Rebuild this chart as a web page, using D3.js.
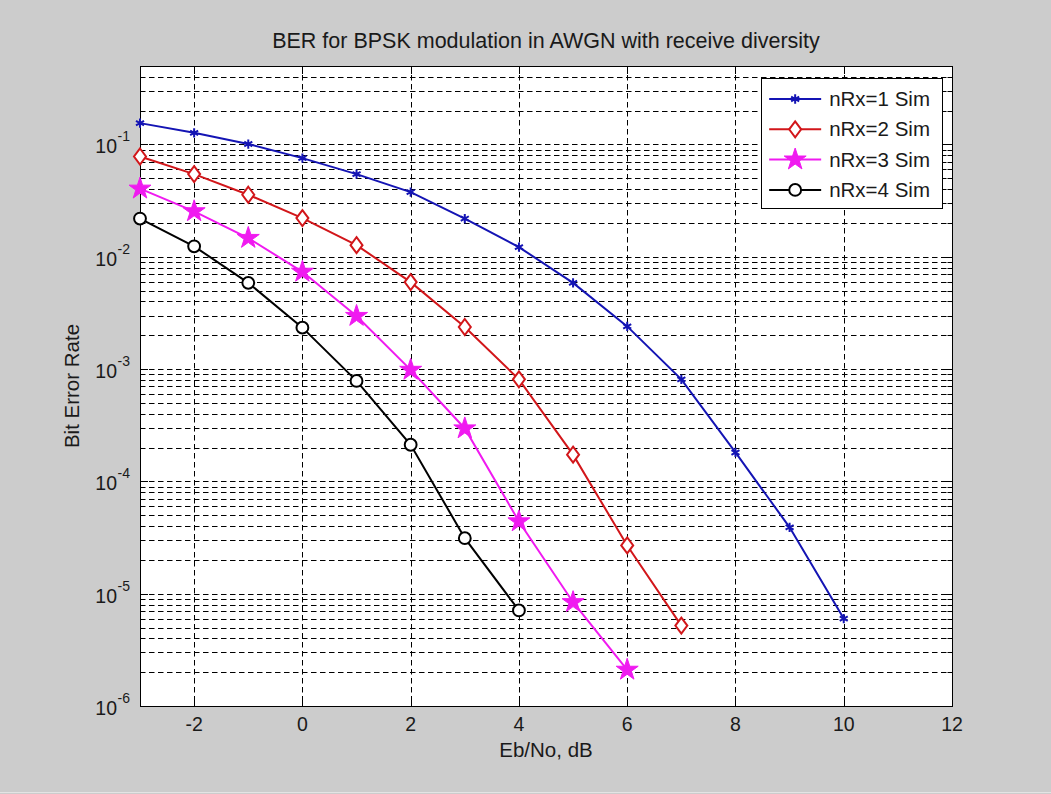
<!DOCTYPE html>
<html>
<head>
<meta charset="utf-8">
<script src="https://cdn.jsdelivr.net/npm/d3@7"></script>
<style>
    body { margin: 0; background: #cccccc; }
    svg { display: block; font-family: 'Liberation Sans', Arial, sans-serif; }
    .grid line { stroke: #000; stroke-width: 1; stroke-dasharray: 5.5, 3.5; }
    .tick-label { font-size: 19.5px; fill: #1a1a1a; }
    .axis-label { font-size: 20.5px; fill: #1a1a1a; }
</style>
</head>
<body>
<div id="chart"></div>
<script>
// Eb/No values (dB) for each simulated curve
const ebno1 = [-3, -2, -1, 0, 1, 2, 3, 4, 5, 6, 7, 8, 9, 10]
const ebno2 = [-3, -2, -1, 0, 1, 2, 3, 4, 5, 6, 7]
const ebno3 = [-3, -2, -1, 0, 1, 2, 3, 4, 5, 6]
const ebno4 = [-3, -2, -1, 0, 1, 2, 3, 4]

// simulated bit error rates
const ber1 = [0.155, 0.127, 0.101, 0.0756, 0.0545, 0.0377, 0.0219, 0.0122, 0.00586, 0.0024, 0.00081, 0.000181, 0.000039, 0.000006]
const ber2 = [0.0782, 0.0545, 0.0357, 0.0221, 0.0127, 0.00595, 0.00237, 0.00081, 0.000173, 0.0000269, 0.0000052]
const ber3 = [0.0404, 0.0254, 0.0147, 0.00735, 0.00297, 0.000984, 0.000296, 0.000044, 0.0000084, 0.0000021]
const ber4 = [0.0219, 0.0124, 0.00586, 0.00234, 0.000785, 0.000212, 0.0000312, 0.0000071]

const seriesNames = ['nRx=1 Sim', 'nRx=2 Sim', 'nRx=3 Sim', 'nRx=4 Sim']
const xTicks = [-2, 0, 2, 4, 6, 8, 10, 12]
const yExponents = [-6, -5, -4, -3, -2, -1]

const series = [
    { name: seriesNames[0], x: ebno1, y: ber1, color: '#1414b4', marker: 'asterisk' },
    { name: seriesNames[1], x: ebno2, y: ber2, color: '#d2161a', marker: 'diamond' },
    { name: seriesNames[2], x: ebno3, y: ber3, color: '#f01af0', marker: 'star' },
    { name: seriesNames[3], x: ebno4, y: ber4, color: '#000000', marker: 'circle' }
]

const DIM = {
    width: 1051,
    height: 794,
    left: 140,
    right: 952,
    top: 66,
    bottom: 706
}

const svg = d3.select('#chart').append('svg')
    .attr('width', DIM.width)
    .attr('height', DIM.height)

svg.append('rect')
    .attr('width', DIM.width)
    .attr('height', DIM.height)
    .attr('fill', '#cccccc')
svg.append('line')
    .attr('x1', 0).attr('x2', DIM.width)
    .attr('y1', 792.5).attr('y2', 792.5)
    .attr('stroke', '#e4e4e4')

const xScale = d3.scaleLinear().domain([-3, 12]).range([DIM.left, DIM.right])
const yScale = d3.scaleLog().domain([1e-6, 0.5]).range([DIM.bottom, DIM.top])

// plot background
svg.append('rect')
    .attr('x', DIM.left)
    .attr('y', DIM.top)
    .attr('width', DIM.right - DIM.left)
    .attr('height', DIM.bottom - DIM.top)
    .attr('fill', '#ffffff')

// every 1..9 step of each decade
let yGridVals = []
yExponents.forEach(e => {
    for (let k = 1; k <= 9; k++) {
        let v = k * Math.pow(10, e)
        if (v <= 0.5) yGridVals.push(v)
    }
})
yGridVals = yGridVals.filter(v => v > 1e-6 && v < 0.5)

const grid = svg.append('g').attr('class', 'grid')
grid.selectAll('.hgrid')
    .data(yGridVals)
    .join('line')
    .attr('class', 'hgrid')
    .attr('x1', DIM.left)
    .attr('x2', DIM.right)
    .attr('y1', d => Math.round(yScale(d)) + 0.5)
    .attr('y2', d => Math.round(yScale(d)) + 0.5)
grid.selectAll('.vgrid')
    .data(xTicks.filter(d => d < 12))
    .join('line')
    .attr('class', 'vgrid')
    .attr('y1', DIM.top)
    .attr('y2', DIM.bottom)
    .attr('x1', d => Math.round(xScale(d)) + 0.5)
    .attr('x2', d => Math.round(xScale(d)) + 0.5)

// tick marks, inside the box on all four sides
const ticks = svg.append('g').attr('stroke', '#000').attr('stroke-width', 1)
xTicks.forEach(t => {
    let x = Math.round(xScale(t)) + 0.5
    ticks.append('line').attr('x1', x).attr('x2', x).attr('y1', DIM.bottom).attr('y2', DIM.bottom - 8)
    ticks.append('line').attr('x1', x).attr('x2', x).attr('y1', DIM.top).attr('y2', DIM.top + 8)
})
yGridVals.concat([1e-6]).forEach(v => {
    let y = Math.round(yScale(v)) + 0.5
    let major = Math.abs(Math.log10(v) - Math.round(Math.log10(v))) < 1e-9
    let len = major ? 8 : 4.5
    ticks.append('line').attr('x1', DIM.left).attr('x2', DIM.left + len).attr('y1', y).attr('y2', y)
    ticks.append('line').attr('x1', DIM.right).attr('x2', DIM.right - len).attr('y1', y).attr('y2', y)
})

// axes box
svg.append('rect')
    .attr('x', DIM.left + 0.5)
    .attr('y', DIM.top + 0.5)
    .attr('width', DIM.right - DIM.left)
    .attr('height', DIM.bottom - DIM.top)
    .attr('fill', 'none')
    .attr('stroke', '#000')

// tick labels
svg.selectAll('.xtick')
    .data(xTicks)
    .join('text')
    .attr('class', 'tick-label xtick')
    .attr('x', d => xScale(d))
    .attr('y', DIM.bottom + 25)
    .attr('text-anchor', 'middle')
    .text(d => d)

// 10 with a raised exponent, MATLAB style
const ylab = svg.selectAll('.ytick')
    .data(yExponents)
    .join('g')
    .attr('class', 'ytick')
    .attr('transform', d => `translate(0, ${yScale(Math.pow(10, d))})`)
ylab.append('text')
    .attr('class', 'tick-label')
    .attr('x', 117)
    .attr('y', 9)
    .attr('text-anchor', 'end')
    .text('10')
ylab.append('text')
    .attr('class', 'tick-label')
    .attr('x', 117.5)
    .attr('y', -3)
    .style('font-size', '14px')
    .text(d => '-' + Math.abs(d))

// title and axis labels
svg.append('text')
    .attr('class', 'axis-label')
    .attr('x', (DIM.left + DIM.right) / 2)
    .attr('y', 48)
    .attr('text-anchor', 'middle')
    .style('font-size', '21.5px')
    .text('BER for BPSK modulation in AWGN with receive diversity')
svg.append('text')
    .attr('class', 'axis-label')
    .attr('x', (DIM.left + DIM.right) / 2)
    .attr('y', 757)
    .attr('text-anchor', 'middle')
    .text('Eb/No, dB')
svg.append('text')
    .attr('class', 'axis-label')
    .attr('text-anchor', 'middle')
    .attr('transform', `translate(79, ${(DIM.top + DIM.bottom) / 2}) rotate(-90)`)
    .text('Bit Error Rate')

// marker shapes
function markerPath(kind) {
    switch (kind) {
        case 'asterisk': return d3.symbol(d3.symbolAsterisk, 60)()
        case 'diamond': return 'M0,-8L6,0L0,8L-6,0Z'
        case 'star': return d3.symbol(d3.symbolStar, 150)()
        case 'circle': return d3.symbol(d3.symbolCircle, 110)()
    }
}

function drawMarker(g, s) {
    g.append('path')
        .attr('d', markerPath(s.marker))
        .attr('fill', s.marker === 'star' ? s.color : (s.marker === 'asterisk' ? 'none' : '#ffffff'))
        .attr('stroke', s.color)
        .attr('stroke-width', s.marker === 'star' ? 1 : 2)
}

const line = d3.line()
    .x(d => xScale(d[0]))
    .y(d => yScale(d[1]))

series.forEach(s => {
    let pts = s.x.map((x, i) => [x, s.y[i]])
    svg.append('path')
        .datum(pts)
        .attr('fill', 'none')
        .attr('stroke', s.color)
        .attr('stroke-width', 2)
        .attr('d', line)
    svg.append('g')
        .selectAll('g')
        .data(pts)
        .join('g')
        .attr('transform', d => `translate(${xScale(d[0])}, ${yScale(d[1])})`)
        .each(function () { drawMarker(d3.select(this), s) })
})

// legend
const legend = svg.append('g')
const legendBox = legend.append('rect')
    .attr('fill', '#ffffff')
    .attr('stroke', '#000')
const legendRows = legend.selectAll('.row')
    .data(series)
    .join('g')
    .attr('class', 'row')
    .attr('transform', (d, i) => `translate(0, ${99 + i * 30.3})`)
legendRows.append('text')
    .attr('class', 'axis-label')
    .attr('y', 7)
    .text(d => d.name)
let textW = d3.max(legendRows.selectAll('text').nodes(), n => n.getComputedTextLength())
let textX = 930 - textW
legendRows.selectAll('text').attr('x', textX)
legendRows.append('line')
    .attr('x1', textX - 60)
    .attr('x2', textX - 8)
    .attr('stroke', d => d.color)
    .attr('stroke-width', 2)
legendRows.append('g')
    .attr('transform', `translate(${textX - 34}, 0)`)
    .each(function (d) { drawMarker(d3.select(this), d) })
legendBox
    .attr('x', Math.round(textX - 68) + 0.5)
    .attr('y', 78.5)
    .attr('width', Math.round(942 - (textX - 68)))
    .attr('height', 130)
</script>
</body>
</html>
